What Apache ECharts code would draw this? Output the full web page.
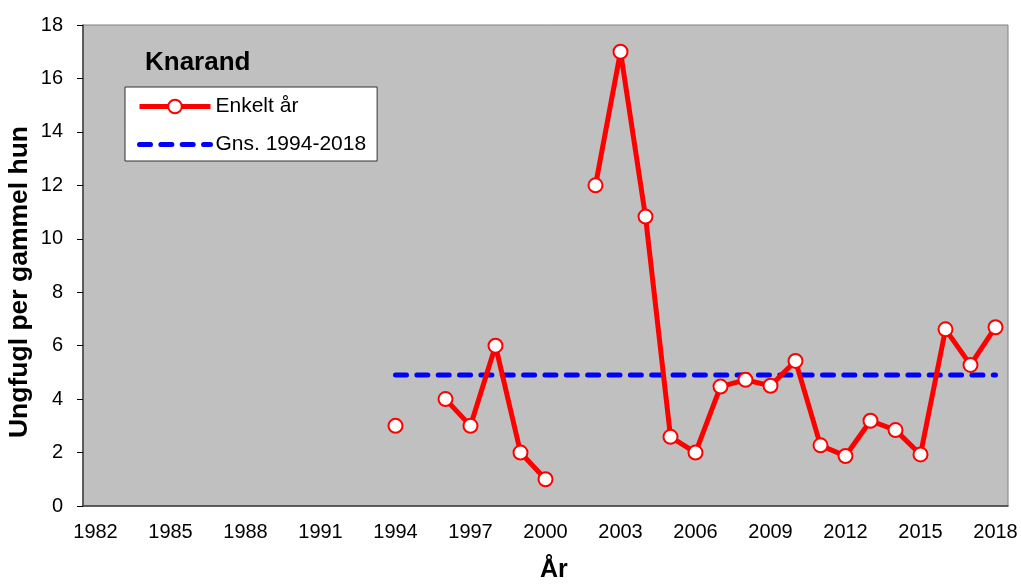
<!DOCTYPE html>
<html>
<head>
<meta charset="utf-8">
<script src="https://cdn.jsdelivr.net/npm/echarts@6/dist/echarts.min.js"></script>
<style>
  html, body { margin: 0; padding: 0; background: #fff; }
  #chart { width: 1021px; height: 585px; }
</style>
</head>
<body>
<div id="chart"></div>
<script>
// år 1982-2018
const years = []
for (let y = 1982; y <= 2018; y++) years.push(String(y))

// ungfugl per gammel hun, enkelt år (null = ingen data)
const enkeltAr = [
  null, null, null, null, null, null, null, null, null, null, null, null, // 1982-1993
  3, null, 4, 3, 6, 2, 1, null,                                           // 1994-2001
  12, 17, 10.83, 2.59, 2, 4.47, 4.72, 4.5, 5.43, 2.27, 1.87,              // 2002-2012
  3.19, 2.84, 1.93, 6.61, 5.28, 6.69                                      // 2013-2018
]

// gennemsnit 1994-2018
const gnsValue = 4.9
const gns = years.map(y => (+y >= 1994 ? gnsValue : null))

const yTicks = { min: 0, max: 18, interval: 2 }

const font = 'Liberation Sans, Arial, sans-serif'
const dash = [11, 10.35]

const chart = echarts.init(document.getElementById('chart'))

chart.setOption({
  animation: false,
  backgroundColor: '#fff',
  textStyle: { fontFamily: font, color: '#000' },
  title: {
    text: 'Knarand',
    left: 145,
    top: 50,
    padding: 0,
    textStyle: { fontFamily: font, fontSize: 26, fontWeight: 'bold', color: '#000' }
  },
  legend: {
    orient: 'vertical',
    left: 125,
    top: 87,
    padding: [9, 11, 6, 12],
    itemWidth: 71,
    itemHeight: 17,
    itemGap: 17,
    backgroundColor: '#fff',
    borderColor: '#333',
    borderWidth: 1,
    borderRadius: 0,
    textStyle: { fontFamily: font, fontSize: 21, color: '#000' },
    data: [
      { name: 'Enkelt år', lineStyle: { width: 5 } },
      { name: 'Gns. 1994-2018', lineStyle: { width: 5, type: dash, cap: 'round' }, itemStyle: { opacity: 0 } }
    ]
  },
  grid: {
    left: 83,
    right: 13,
    top: 25,
    bottom: 79,
    show: true,
    backgroundColor: '#c0c0c0',
    borderColor: '#808080',
    borderWidth: 1
  },
  xAxis: {
    type: 'category',
    data: years,
    boundaryGap: true,
    axisLine: { lineStyle: { color: '#404040', width: 1.5 } },
    axisTick: { interval: 0, length: 6, lineStyle: { color: '#000' } },
    axisLabel: { interval: 2, margin: 16, fontSize: 20, fontFamily: font, color: '#000' },
    splitLine: { show: false }
  },
  yAxis: {
    type: 'value',
    min: yTicks.min,
    max: yTicks.max,
    interval: yTicks.interval,
    axisLine: { show: true, lineStyle: { color: '#404040', width: 1.5 } },
    axisTick: { show: true, length: 6, lineStyle: { color: '#000' } },
    axisLabel: { margin: 20, fontSize: 20, fontFamily: font, color: '#000' },
    splitLine: { show: false }
  },
  graphic: [
    {
      type: 'text',
      x: 20,
      y: 282,
      rotation: Math.PI / 2,
      style: {
        text: 'Ungfugl per gammel hun',
        font: 'bold 26.5px ' + font,
        fill: '#000',
        align: 'center',
        verticalAlign: 'middle'
      }
    },
    {
      type: 'text',
      left: 540,
      top: 558,
      style: {
        text: 'År',
        font: 'bold 25px ' + font,
        fill: '#000'
      }
    }
  ],
  series: [
    {
      name: 'Enkelt år',
      type: 'line',
      data: enkeltAr,
      connectNulls: false,
      symbol: 'circle',
      symbolSize: 14,
      showAllSymbol: true,
      lineStyle: { color: '#ff0000', width: 5 },
      itemStyle: { color: '#fff', borderColor: '#ff0000', borderWidth: 2 },
      z: 3
    },
    {
      name: 'Gns. 1994-2018',
      type: 'line',
      data: gns,
      symbol: 'none',
      lineStyle: { color: '#0000ff', width: 5, type: dash, cap: 'round' },
      itemStyle: { color: '#0000ff' },
      z: 2
    }
  ]
})
</script>
</body>
</html>
